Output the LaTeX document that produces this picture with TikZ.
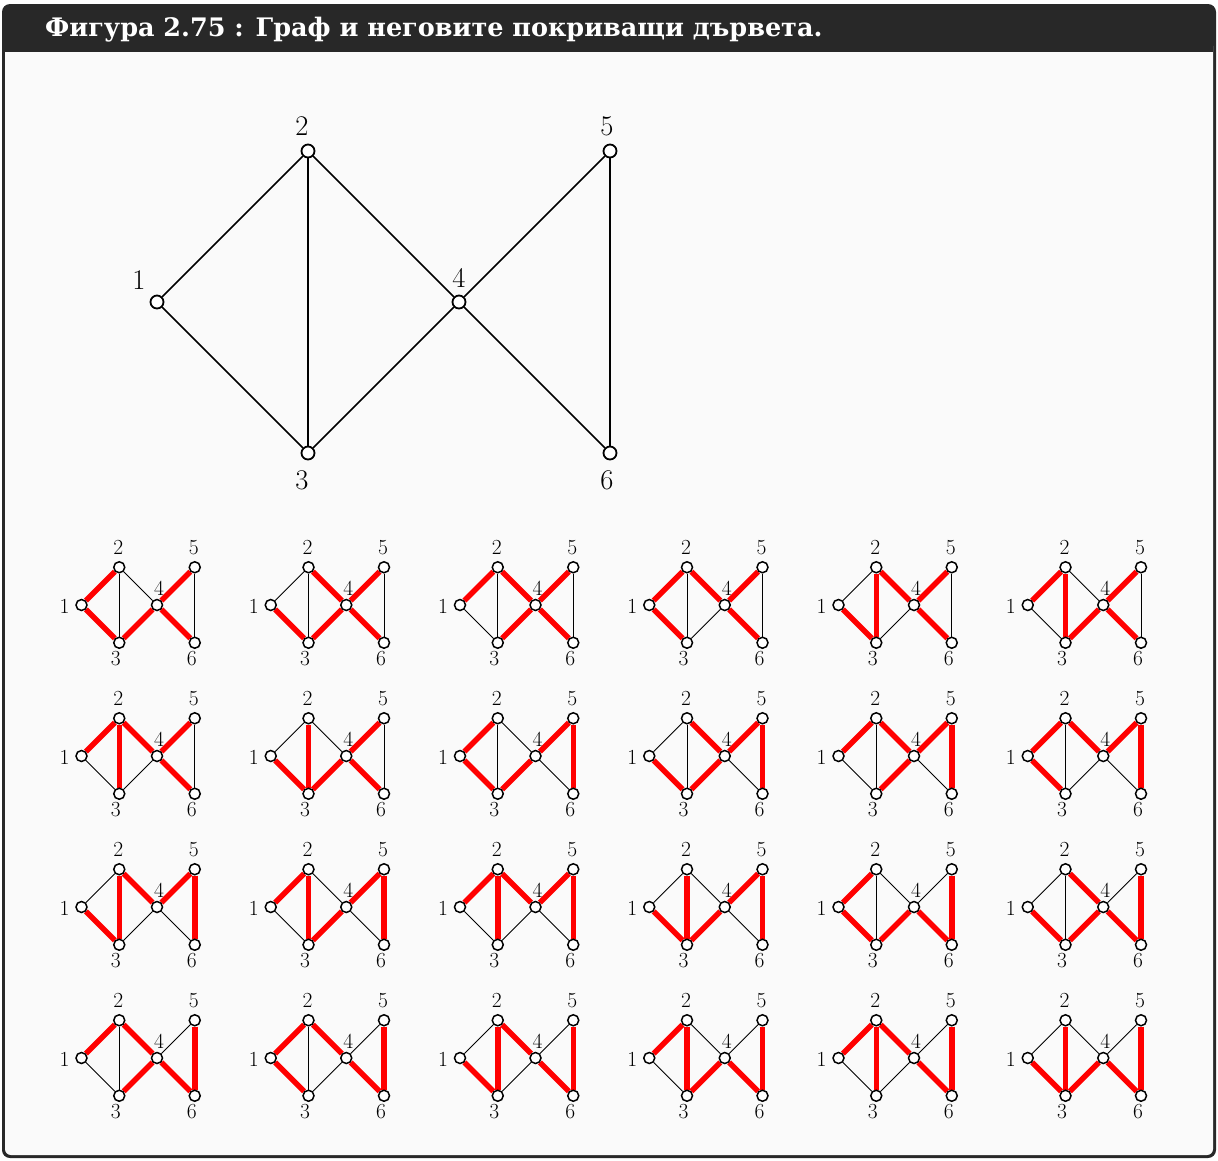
\documentclass[tikz,border=0pt]{standalone}
\usepackage{fontspec}
\newfontfamily\titlefont{DejaVu Serif}
\definecolor{framedark}{HTML}{282828}
\definecolor{bodybg}{HTML}{FAFAFA}
\definecolor{treered}{HTML}{FF0000}
\pgfdeclarelayer{bg}
\pgfsetlayers{bg,main}
\begin{document}
\begin{tikzpicture}[x=1pt,y=-1pt,
  mnode/.style={circle,draw=black,fill=white,line width=1.8pt,minimum size=13pt,inner sep=0pt},
  snode/.style={circle,draw=black,fill=white,line width=1.5pt,minimum size=11pt,inner sep=0pt},
  medge/.style={draw=black,line width=1.7pt},
  sedge/.style={draw=black,line width=1pt},
  redge/.style={draw=treered,line width=5.5pt},
  mlab/.style={font=\fontsize{28.5}{30}\selectfont,inner sep=0pt},
  slab/.style={font=\fontsize{21.5}{23}\selectfont,inner sep=0pt},
]
\useasboundingbox (0,0) rectangle (1218,1160);
\begin{pgfonlayer}{bg}
\fill[framedark, rounded corners=8pt] (2,4) rectangle (1216,1158);
\fill[bodybg, rounded corners=6pt] (5,40) rectangle (1213,1155);
\fill[framedark] (5,30) rectangle (1213,52);
\end{pgfonlayer}
\node[anchor=base west, text=white, inner sep=0pt, font=\titlefont\bfseries\fontsize{25.5}{30}\selectfont] (title) at (45,36) {Фигура 2.75 : Граф и неговите покриващи дървета.};

% main graph
\node[mnode, label={[mlab,shift={(-18,-22)}]center:1}] (m1) at (157,302) {};
\node[mnode, label={[mlab,shift={(-6,-25)}]center:2}] (m2) at (308,151) {};
\node[mnode, label={[mlab,shift={(-6,27)}]center:3}] (m3) at (308,453) {};
\node[mnode, label={[mlab,shift={(0,-24)}]center:4}] (m4) at (459,302) {};
\node[mnode, label={[mlab,shift={(-3,-25)}]center:5}] (m5) at (610,151) {};
\node[mnode, label={[mlab,shift={(-3,27)}]center:6}] (m6) at (610,453) {};
\begin{pgfonlayer}{bg}
\foreach \a/\b in {1/2,1/3,2/3,2/4,3/4,4/5,4/6,5/6} {\draw[medge] (m\a) -- (m\b);}
\end{pgfonlayer}

% spanning trees
\foreach \i/\red/\blk in {
 1/{1/2,1/3,3/4,4/5,4/6}/{2/3,2/4,5/6},
 2/{1/3,2/4,3/4,4/5,4/6}/{1/2,2/3,5/6},
 3/{1/2,2/4,3/4,4/5,4/6}/{1/3,2/3,5/6},
 4/{1/2,1/3,2/4,4/5,4/6}/{2/3,3/4,5/6},
 5/{1/3,2/3,2/4,4/5,4/6}/{1/2,3/4,5/6},
 6/{1/2,2/3,3/4,4/5,4/6}/{1/3,2/4,5/6},
 7/{1/2,2/3,2/4,4/5,4/6}/{1/3,3/4,5/6},
 8/{1/3,2/3,3/4,4/5,4/6}/{1/2,2/4,5/6},
 9/{1/2,1/3,3/4,4/5,5/6}/{2/3,2/4,4/6},
 10/{1/3,2/4,3/4,4/5,5/6}/{1/2,2/3,4/6},
 11/{1/2,2/4,3/4,4/5,5/6}/{1/3,2/3,4/6},
 12/{1/2,1/3,2/4,4/5,5/6}/{2/3,3/4,4/6},
 13/{1/3,2/3,2/4,4/5,5/6}/{1/2,3/4,4/6},
 14/{1/2,2/3,3/4,4/5,5/6}/{1/3,2/4,4/6},
 15/{1/2,2/3,2/4,4/5,5/6}/{1/3,3/4,4/6},
 16/{1/3,2/3,3/4,4/5,5/6}/{1/2,2/4,4/6},
 17/{1/2,1/3,3/4,4/6,5/6}/{2/3,2/4,4/5},
 18/{1/3,2/4,3/4,4/6,5/6}/{1/2,2/3,4/5},
 19/{1/2,2/4,3/4,4/6,5/6}/{1/3,2/3,4/5},
 20/{1/2,1/3,2/4,4/6,5/6}/{2/3,3/4,4/5},
 21/{1/3,2/3,2/4,4/6,5/6}/{1/2,3/4,4/5},
 22/{1/2,2/3,3/4,4/6,5/6}/{1/3,2/4,4/5},
 23/{1/2,2/3,2/4,4/6,5/6}/{1/3,3/4,4/5},
 24/{1/3,2/3,3/4,4/6,5/6}/{1/2,2/4,4/5}}{
  \pgfmathtruncatemacro\col{mod(\i-1,6)}
  \pgfmathtruncatemacro\row{div(\i-1,6)}
  \begin{scope}[shift={(81.5+189.25*\col,605+151*\row)}]
   \node[snode,label={[slab,shift={(-17,1.5)}]center:1}] (s\i-1) at (0,0) {};
   \node[snode,label={[slab,shift={(-1,-20)}]center:2}] (s\i-2) at (37.75,-37.75) {};
   \node[snode,label={[slab,shift={(-3.5,16)}]center:3}] (s\i-3) at (37.75,37.75) {};
   \node[snode,label={[slab,shift={(2,-17)}]center:4}] (s\i-4) at (75.5,0) {};
   \node[snode,label={[slab,shift={(-1,-20)}]center:5}] (s\i-5) at (113.25,-37.75) {};
   \node[snode,label={[slab,shift={(-3,16)}]center:6}] (s\i-6) at (113.25,37.75) {};
   \begin{pgfonlayer}{bg}
   \foreach \a/\b in \blk {\draw[sedge] (s\i-\a) -- (s\i-\b);}
   \foreach \a/\b in \red {\draw[redge] (s\i-\a) -- (s\i-\b);}
   \end{pgfonlayer}
  \end{scope}
 }
\end{tikzpicture}
\end{document}
